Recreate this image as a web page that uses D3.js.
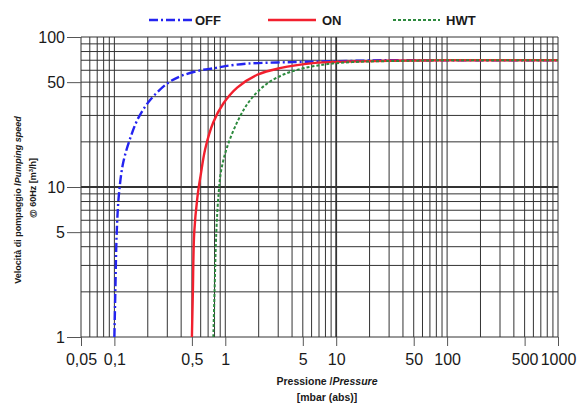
<!DOCTYPE html>
<html><head><meta charset="utf-8">
<script src="https://cdn.jsdelivr.net/npm/d3@7"></script>
<style>
body{margin:0;background:#fff;}
svg{display:block;font-family:"Liberation Sans",Arial,sans-serif;}
</style></head>
<body><svg id="c" width="588" height="405"></svg>
<script>
// ---- data ----
const seriesNames = ["OFF", "ON", "HWT"];
const offPressure = [0.1, 0.102, 0.105, 0.11, 0.12, 0.14, 0.165, 0.21, 0.30, 0.40, 0.6, 0.8, 1.0, 1.6, 4, 10, 30, 100, 1000];
const offSpeed    = [1, 2, 5, 9, 14.5, 21.5, 29, 38, 49, 55, 60, 62, 64, 66.5, 68, 69, 70, 70, 70];
const onPressure  = [0.5, 0.51, 0.525, 0.56, 0.6, 0.66, 0.78, 0.96, 1.28, 1.94, 3.1, 6.2, 12.6, 30, 100, 1000];
const onSpeed     = [1, 2, 5, 8.5, 12, 18, 27, 36, 46, 56, 62, 67, 68.5, 69.5, 70, 70];
const hwtPressure = [0.78, 0.8, 0.83, 0.87, 0.92, 1.04, 1.31, 1.68, 2.39, 3.85, 7.2, 14, 50, 100, 1000];
const hwtSpeed    = [1, 2, 5, 9, 13, 18.5, 28, 38, 49, 58.5, 65, 68, 69.5, 70, 70];
const xTickValues = [0.05, 0.1, 0.5, 1, 5, 10, 50, 100, 500, 1000];
const xTickLabels = ["0,05", "0,1", "0,5", "1", "5", "10", "50", "100", "500", "1000"];
const yTickValues = [1, 5, 10, 50, 100];
const yTickLabels = ["1", "5", "10", "50", "100"];

const svg = d3.select("#c");
const x = d3.scaleLog().domain([0.05, 1000]).range([81, 558]);
const y = d3.scaleLog().domain([1, 100]).range([337, 37]);

// grid values
const xGrid = [];
[0.01, 0.1, 1, 10, 100].forEach(d => { for (let k = 1; k <= 9; k++) { const v = +(d * k).toPrecision(3); if (v >= 0.05 && v <= 1000) xGrid.push(v); } });
xGrid.push(1000);
const yGrid = [];
[1, 10].forEach(d => { for (let k = 1; k <= 9; k++) yGrid.push(d * k); });
yGrid.push(100);

const g = svg.append("g");
g.selectAll("line.vg").data(xGrid).join("line")
  .attr("x1", d => x(d)).attr("x2", d => x(d))
  .attr("y1", y(100)).attr("y2", y(1))
  .attr("stroke", "#333").attr("stroke-width", d => (d === 10 ? 1.8 : 1));
g.selectAll("line.hg").data(yGrid).join("line")
  .attr("x1", x(0.05)).attr("x2", x(1000))
  .attr("y1", d => y(d)).attr("y2", d => y(d))
  .attr("stroke", "#333").attr("stroke-width", d => (d === 10 ? 1.8 : 1));

// axes (labelled ticks)
const xAxis = d3.axisBottom(x).tickValues(xTickValues)
  .tickFormat((d, i) => xTickLabels[i]).tickSize(9).tickSizeOuter(0).tickPadding(8);
const xa = svg.append("g").attr("transform", `translate(0,${y(1)})`).call(xAxis);
xa.select(".domain").remove();
xa.selectAll("line").attr("stroke", "#555");
xa.selectAll("text").attr("font-size", 16).attr("fill", "#1a1a1a")
  .style("font-family", "'Liberation Sans',Arial,sans-serif");

const yAxis = d3.axisLeft(y).tickValues(yTickValues)
  .tickFormat((d, i) => yTickLabels[i]).tickSize(14).tickSizeOuter(0).tickPadding(2);
const ya = svg.append("g").attr("transform", `translate(${x(0.05)},0)`).call(yAxis);
ya.select(".domain").remove();
ya.selectAll("line").attr("stroke", "#555");
ya.selectAll("text").attr("font-size", 16).attr("fill", "#1a1a1a")
  .style("font-family", "'Liberation Sans',Arial,sans-serif");

// curves
const series = [
  { name: seriesNames[0], p: offPressure, s: offSpeed, color: "#2424f0", dash: "9,3,2,3", w: 2.4 },
  { name: seriesNames[1], p: onPressure, s: onSpeed, color: "#f2202e", dash: null, w: 2.4 },
  { name: seriesNames[2], p: hwtPressure, s: hwtSpeed, color: "#2d8a3e", dash: "3,2", w: 2 }
];
series.forEach(sr => {
  const pts = sr.p.map((v, i) => [v, sr.s[i]]);
  svg.append("path").datum(pts)
    .attr("d", d3.line().x(d => x(d[0])).y(d => y(d[1])).curve(d3.curveCatmullRom.alpha(0.5)))
    .attr("fill", "none").attr("stroke", sr.color).attr("stroke-width", sr.w)
    .attr("stroke-dasharray", sr.dash);
});

// legend
const legendPos = [[149, 193], [268, 316], [393, 440]];
const legendGap = [2, 6, 6];
series.forEach((sr, i) => {
  const [a, b] = legendPos[i];
  svg.append("line").attr("x1", a).attr("x2", b).attr("y1", 20).attr("y2", 20)
    .attr("stroke", sr.color).attr("stroke-width", sr.w).attr("stroke-dasharray", sr.dash);
  svg.append("text").attr("x", b + legendGap[i]).attr("y", 25)
    .attr("font-size", 13).attr("font-weight", "bold").attr("fill", "#1a1a1a").text(sr.name);
});

// x title
const xt = svg.append("text").attr("x", 327).attr("y", 385).attr("text-anchor", "middle")
  .attr("font-size", 10.5).attr("font-weight", "bold").attr("fill", "#1a1a1a");
xt.append("tspan").text("Pressione /");
xt.append("tspan").attr("font-style", "italic").text("Pressure");
svg.append("text").attr("x", 327).attr("y", 401).attr("text-anchor", "middle")
  .attr("font-size", 10.5).attr("font-weight", "bold").attr("fill", "#1a1a1a").text("[mbar (abs)]");

// y title
const yt = svg.append("text").attr("transform", "translate(21,200) rotate(-90)").attr("text-anchor", "middle")
  .attr("font-size", 9).attr("font-weight", "bold").attr("fill", "#1a1a1a");
yt.append("tspan").text("Velocità di pompaggio /");
yt.append("tspan").attr("font-style", "italic").text("Pumping speed");
const yt2 = svg.append("text").attr("transform", "translate(36,188) rotate(-90)").attr("text-anchor", "middle")
  .attr("font-size", 9).attr("font-weight", "bold").attr("fill", "#1a1a1a");
yt2.append("tspan").text("@ 60Hz [m");
yt2.append("tspan").attr("font-size", 6).attr("dy", -3).text("3");
yt2.append("tspan").attr("dy", 3).text("/h]");
</script></body></html>
